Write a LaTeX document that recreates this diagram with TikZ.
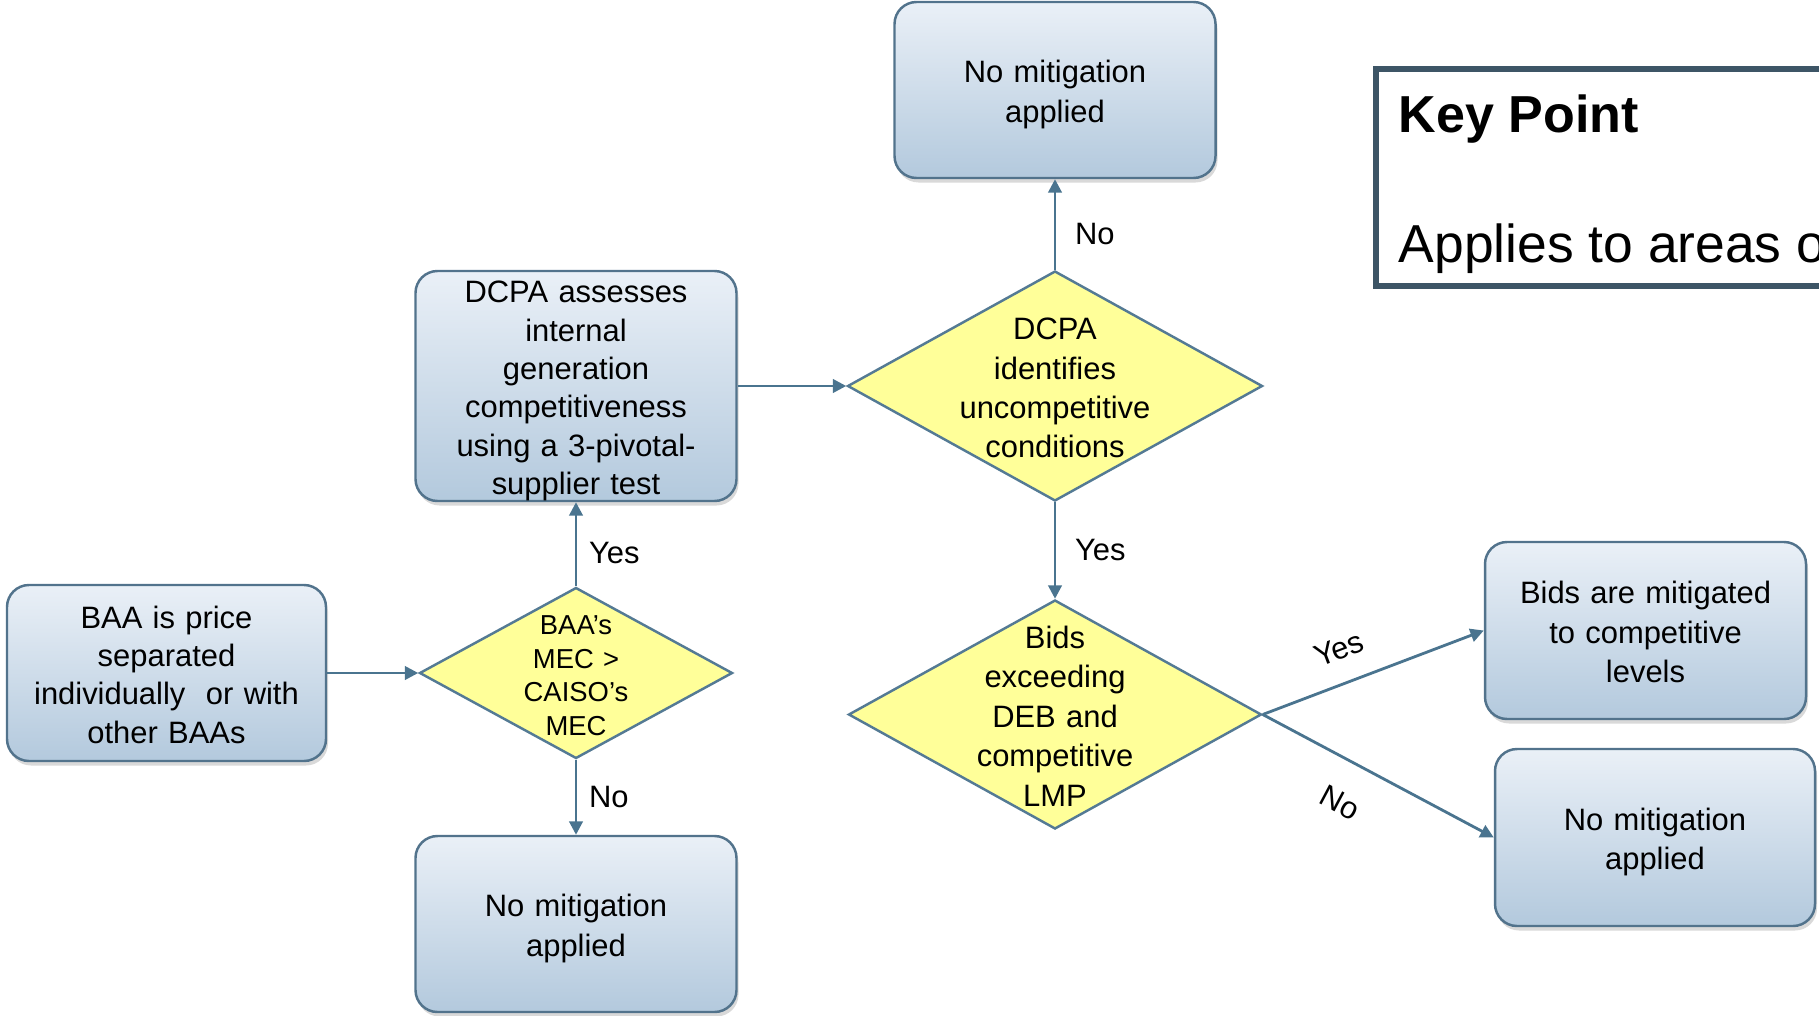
\documentclass[tikz,border=0pt]{standalone}
\usepackage{fontspec}
\setmainfont{Liberation Sans}
\usetikzlibrary{arrows.meta,shapes.geometric,shadows}

\definecolor{mitBoxTop}{RGB}{234,240,247}
\definecolor{mitBoxBottom}{RGB}{179,201,221}
\definecolor{mitBoxBorder}{RGB}{82,115,140}
\definecolor{mitDecision}{RGB}{255,255,153}
\definecolor{mitDecisionBorder}{RGB}{84,122,148}
\definecolor{mitArrow}{RGB}{74,116,143}
\definecolor{mitKeyBorder}{RGB}{61,85,102}

\begin{document}
\begin{tikzpicture}[x=1cm,y=1cm,
      lines/.style={execute at begin node={\rule{0pt}{#1}},
        execute at end node={\rule[-1.7pt]{0pt}{1.7pt}}},
      lines/.default=9pt,
      stepbox/.style={draw=mitBoxBorder, line width=.7pt, rounded corners=.22cm,
        top color=mitBoxTop, bottom color=mitBoxBottom, align=center,
        text width=3cm, inner sep=2pt, lines, font=\fontsize{8.8}{11.2}\selectfont,
        drop shadow={shadow xshift=.02cm, shadow yshift=-.045cm, opacity=.3}},
      decision/.style={shape=diamond, draw=mitDecisionBorder, fill=mitDecision,
        line width=.7pt, inner sep=0pt},
      dtext/.style={align=center, text width=3.2cm, inner sep=0pt, lines,
        font=\fontsize{8.8}{11.2}\selectfont},
      dsmall/.style={align=center, text width=2cm, inner sep=0pt, lines=8.6pt,
        font=\fontsize{7.8}{9.55}\selectfont},
      answer/.style={font=\fontsize{8.8}{10.8}\selectfont},
      flow/.style={draw=mitArrow, line width=.8pt,
        -{Triangle[length=3.8pt,width=3.8pt]}},
      keytext/.style={anchor=base west, inner sep=0pt,
        font=\fontsize{15.2}{17}\selectfont}]
      \useasboundingbox (0,0) rectangle (18.19,10.15);
      \clip (0,0) rectangle (18.19,10.15);

      \node[stepbox, font=\fontsize{8.8}{10.9}\selectfont,
        minimum width=3.19cm, minimum height=1.76cm] (baa)
        at (1.665,3.42) {BAA is price\\separated\\individually\ \ or with\\other BAAs};
      \node[decision, minimum width=3.13cm, minimum height=1.71cm] (mec)
        at (5.76,3.42) {};
      \node[dsmall] (mectext) at (mec) {BAA’s\\MEC >\\CAISO’s\\MEC};
      \node[stepbox, minimum width=3.21cm, minimum height=1.76cm] (nomitL)
        at (5.76,.91) {No mitigation\\applied};
      \node[stepbox, inner ysep=0pt, font=\fontsize{8.8}{10.9}\selectfont,
        minimum width=3.21cm, minimum height=2.30cm] (dcpa)
        at (5.76,6.29) {DCPA assesses\\internal\\generation\\competitiveness\\using a 3-pivotal-\\supplier test};

      \node[decision, minimum width=4.15cm, minimum height=2.30cm] (uncomp)
        at (10.55,6.29) {};
      \node[dtext] (uncomptext) at (uncomp) {DCPA\\identifies\\uncompetitive\\conditions};
      \node[stepbox, minimum width=3.21cm, minimum height=1.76cm] (nomitT)
        at (10.55,9.25) {No mitigation\\applied};
      \node[decision, minimum width=4.13cm, minimum height=2.29cm] (bids)
        at (10.55,3.005) {};
      \node[dtext] (bidstext) at (bids) {Bids\\exceeding\\DEB and\\competitive\\LMP};

      \node[stepbox, minimum width=3.21cm, minimum height=1.77cm] (mitig)
        at (16.455,3.845) {Bids are mitigated\\to competitive\\levels};
      \node[stepbox, minimum width=3.20cm, minimum height=1.77cm] (nomitR)
        at (16.55,1.775) {No mitigation\\applied};

      \draw[flow] (baa) -- (mec);
      \draw[flow] (mec) -- node[answer, right, pos=.4] (yesA) {Yes} (dcpa);
      \draw[flow] (mec) -- node[answer, right] (noA) {No} (nomitL);
      \draw[flow] (dcpa) -- (uncomp);
      \draw[flow] (uncomp) -- node[answer, right=2pt, pos=.39] (noB) {No} (nomitT);
      \draw[flow] (uncomp) -- node[answer, right=2pt] (yesB) {Yes} (bids);
      \draw[flow] (bids.east) -- node[answer, sloped, above=3pt, pos=.40] (yesC) {Yes}
        (mitig.west);
      \draw[flow] (bids.east) -- node[answer, sloped, below=5pt, pos=.42] (noC) {No}
        (nomitR.west);

      \draw[mitKeyBorder, line width=1.7pt] (13.76,9.46) rectangle (18.8,7.29);
      \node[keytext, font=\fontsize{14.8}{17}\selectfont\bfseries] (keytitle)
        at (13.98,8.83) {Key Point};
      \node[keytext] (keybody) at (13.98,7.53) {Applies to areas o};
    \end{tikzpicture}
\end{document}
